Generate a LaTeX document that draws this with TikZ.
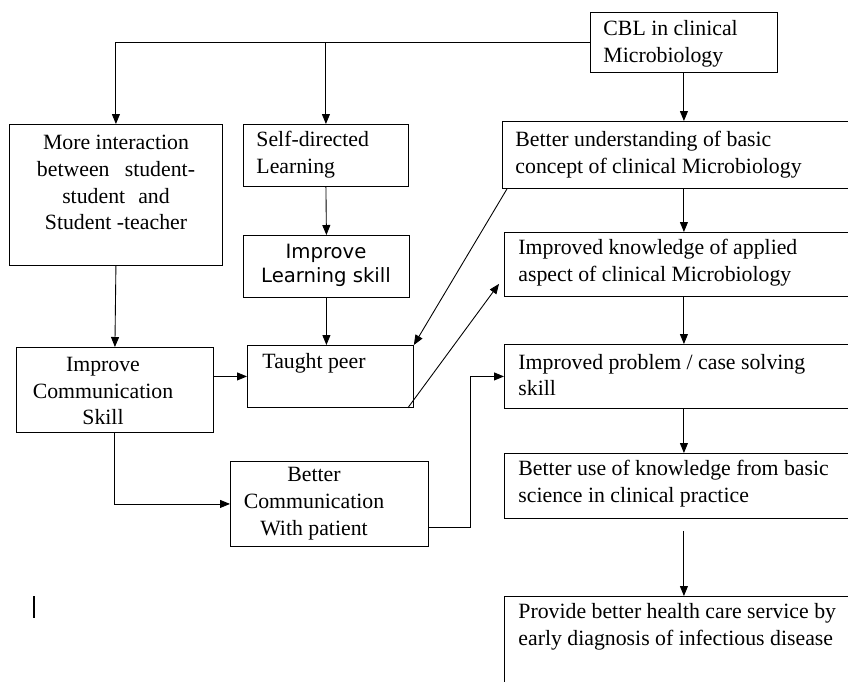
\documentclass[tikz,border=0pt]{standalone}
\usepackage{fontspec}
\setmainfont{Liberation Serif}
\newfontfamily\sansfnt{DejaVu Sans}
\usetikzlibrary{arrows.meta}

\begin{document}
\begin{tikzpicture}[x=0.02cm,y=-0.02cm,
    line width=0.5pt,
    box/.style={draw,anchor=north west,inner sep=0pt},
    txt/.style={inner sep=0pt,font=\fontsize{12.4}{15.3}\selectfont},
    arr/.style={-{Triangle[length=0.2cm,width=0.16cm]}}]
    \useasboundingbox (0,0) rectangle (848,681);
    \clip (0,0) rectangle (848,681);

    % Boites
    \node[box,minimum width=3.74cm,minimum height=1.2cm] (cbl) at (590,12) {};
    \node[box,minimum width=4.26cm,minimum height=2.82cm] (inter) at (9,124) {};
    \node[box,minimum width=3.3cm,minimum height=1.24cm] (self) at (243,124) {};
    \node[box,minimum width=8cm,minimum height=1.34cm] (under) at (502,121) {};
    \node[box,minimum width=3.32cm,minimum height=1.24cm] (learn) at (243,235) {};
    \node[box,minimum width=3.94cm,minimum height=1.7cm] (comm) at (16,347) {};
    \node[box,minimum width=3.32cm,minimum height=1.24cm] (peer) at (247,345) {};
    \node[box,minimum width=3.96cm,minimum height=1.7cm] (patient) at (230,461) {};
    \node[box,minimum width=8cm,minimum height=1.28cm] (know) at (504,232) {};
    \node[box,minimum width=8cm,minimum height=1.28cm] (prob) at (504,344) {};
    \node[box,minimum width=8cm,minimum height=1.3cm] (use) at (504,453) {};
    \node[box,minimum width=8cm,minimum height=3cm] (care) at (504,596) {};

    % Textes
    \node[txt,anchor=west,align=left] at (603,43.5) {CBL in clinical\\Microbiology};
    \node[txt,align=center] at (116,182.5) {More interaction\\between\hspace{0.7em}student-\\student\hspace{0.6em}and\\Student -teacher};
    \node[txt,anchor=west,align=left] at (256,155) {Self-directed\\Learning};
    \node[txt,anchor=west,align=left] at (515,155) {Better understanding of basic\\concept of clinical Microbiology};
    \node[txt,align=center,font=\sansfnt\fontsize{11.2}{13.6}\selectfont] at (326,265) {Improve\\Learning skill};
    \node[txt,align=center] at (103,391) {Improve\\Communication\\Skill};
    \node[txt,anchor=west] at (262,363) {Taught peer};
    \node[txt,align=center] at (314,504) {Better\\Communication\\With patient};
    \node[txt,anchor=west,align=left] at (518,262.5) {Improved knowledge of applied\\aspect of clinical Microbiology};
    \node[txt,anchor=west,align=left] at (518,375) {Improved problem / case solving\\skill};
    \node[txt,anchor=west,align=left] at (518,484) {Better use of knowledge from basic\\science in clinical practice};
    \node[txt,anchor=west,align=left] at (518,626.5) {Provide better health care service by\\early diagnosis of infectious disease};

    % Fleches depuis CBL
    \draw[arr] (cbl.west) -| (inter.north);
    \draw[arr] (self.north |- cbl.west) -- (self.north);
    \draw[arr] (cbl.south) -- (cbl.south |- under.north);

    % Colonne de droite
    \draw[arr] (under.south -| cbl.south) -- (know.north -| cbl.south);
    \draw[arr] (know.south -| cbl.south) -- (prob.north -| cbl.south);
    \draw[arr] (prob.south -| cbl.south) -- (use.north -| cbl.south);
    \draw[arr] ([yshift=-0.24cm]use.south -| cbl.south) -- (care.north -| cbl.south);

    % Colonnes de gauche
    \draw[arr] (self.south) -- (learn.north);
    \draw[arr] (learn.south) -- (learn.south |- peer.north);
    \draw[arr] (inter.south) -- (comm.north);
    \draw[arr] (comm.east |- peer.west) -- (peer.west);
    \draw[arr] (comm.south) |- (patient.west);

    % Liens en diagonale
    \draw[arr] ([xshift=0.1cm]under.south west) -- (peer.north east);
    \draw[arr] ([xshift=-0.12cm]peer.south east) -- ([xshift=-0.1cm,yshift=0.26cm]know.south west);

    % Patient vers resolution de cas
    \coordinate (bend) at (470,527);
    \draw[arr] (patient.east |- bend) -- (bend) |- (prob.west);

    % Trait isole
    \draw[line width=0.8pt] (34,596) -- (34,618);
\end{tikzpicture}
\end{document}
